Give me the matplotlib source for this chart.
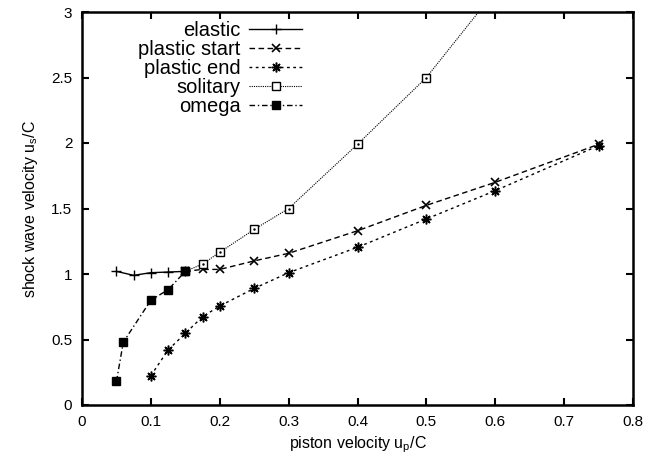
import numpy as np
import matplotlib
matplotlib.use("Agg")
import matplotlib.pyplot as plt

plt.rcParams['font.family'] = ['Liberation Sans', 'DejaVu Sans']

# elastic
x_el = [0.05, 0.075, 0.1, 0.125, 0.15]
y_el = [1.02, 0.99, 1.01, 1.015, 1.02]
# plastic start
x_ps = [0.15, 0.175, 0.2, 0.25, 0.3, 0.4, 0.5, 0.6, 0.75]
y_ps = [1.02, 1.035, 1.035, 1.10, 1.158, 1.33, 1.524, 1.70, 1.99]
# plastic end
x_pe = [0.1, 0.125, 0.15, 0.175, 0.2, 0.25, 0.3, 0.4, 0.5, 0.6, 0.75]
y_pe = [0.224, 0.42, 0.547, 0.674, 0.756, 0.89, 1.01, 1.204, 1.42, 1.636, 1.98]
# solitary
x_so = [0.15, 0.175, 0.2, 0.25, 0.3, 0.4, 0.5, 0.6]
y_so = [1.02, 1.076, 1.166, 1.34, 1.50, 1.99, 2.50, 3.16]
# omega
x_om = [0.05, 0.06, 0.1, 0.125, 0.15]
y_om = [0.18, 0.48, 0.80, 0.88, 1.02]

fig = plt.figure(figsize=(6.49, 4.66), dpi=100)
ax = fig.add_axes([82/649, 1-405/466, (633-82)/649, (405-12)/466])

ax.plot(x_el, y_el, color='k', lw=1.0, marker='+', ms=6.5, mew=1.0, label='elastic')
ax.plot(x_ps, y_ps, color='k', lw=1.0, dashes=(4, 2.5), marker='x', ms=5.5, mew=1.2,
        label='plastic start')
ax.plot(x_pe, y_pe, color='k', lw=1.0, dashes=(2, 2.5), marker=(8, 2, 0), ms=7, mew=1.1,
        label='plastic end')
ax.plot(x_so, y_so, color='k', lw=0.8, dashes=(1, 1), marker='s', ms=5.8, mew=1.0,
        mfc='white', label='solitary')
ax.plot(x_so, y_so, ls='none', color='k', marker='.', ms=1.5)
ax.plot(x_om, y_om, color='k', lw=1.0, dashes=(4, 2, 1, 2), marker='s', ms=5.8,
        mfc='k', label='omega')

ax.set_xlim(0, 0.8)
ax.set_ylim(0, 3)
ax.set_xticks(np.arange(0, 0.81, 0.1))
ax.set_yticks(np.arange(0, 3.01, 0.5))
ax.set_xticklabels(['0', '0.1', '0.2', '0.3', '0.4', '0.5', '0.6', '0.7', '0.8'])
ax.set_yticklabels(['0', '0.5', '1', '1.5', '2', '2.5', '3'])
ax.tick_params(direction='in', length=5, width=1.5, top=True, right=True,
               labelsize=11, pad=7)
for s in ax.spines.values():
    s.set_linewidth(1.8)

ax.set_xlabel('piston velocity u$_\\mathregular{p}$/C', fontsize=11.5, labelpad=4)
ax.set_ylabel('shock wave velocity u$_\\mathregular{s}$/C', fontsize=11.5, labelpad=8)

ax.legend(loc='upper right', bbox_to_anchor=(0.399, 0.978), markerfirst=False,
          frameon=False, fontsize=14.5, handlelength=2.6, handletextpad=0.45,
          labelspacing=0, borderaxespad=0, borderpad=0)

fig.savefig('out.png', dpi=100)
